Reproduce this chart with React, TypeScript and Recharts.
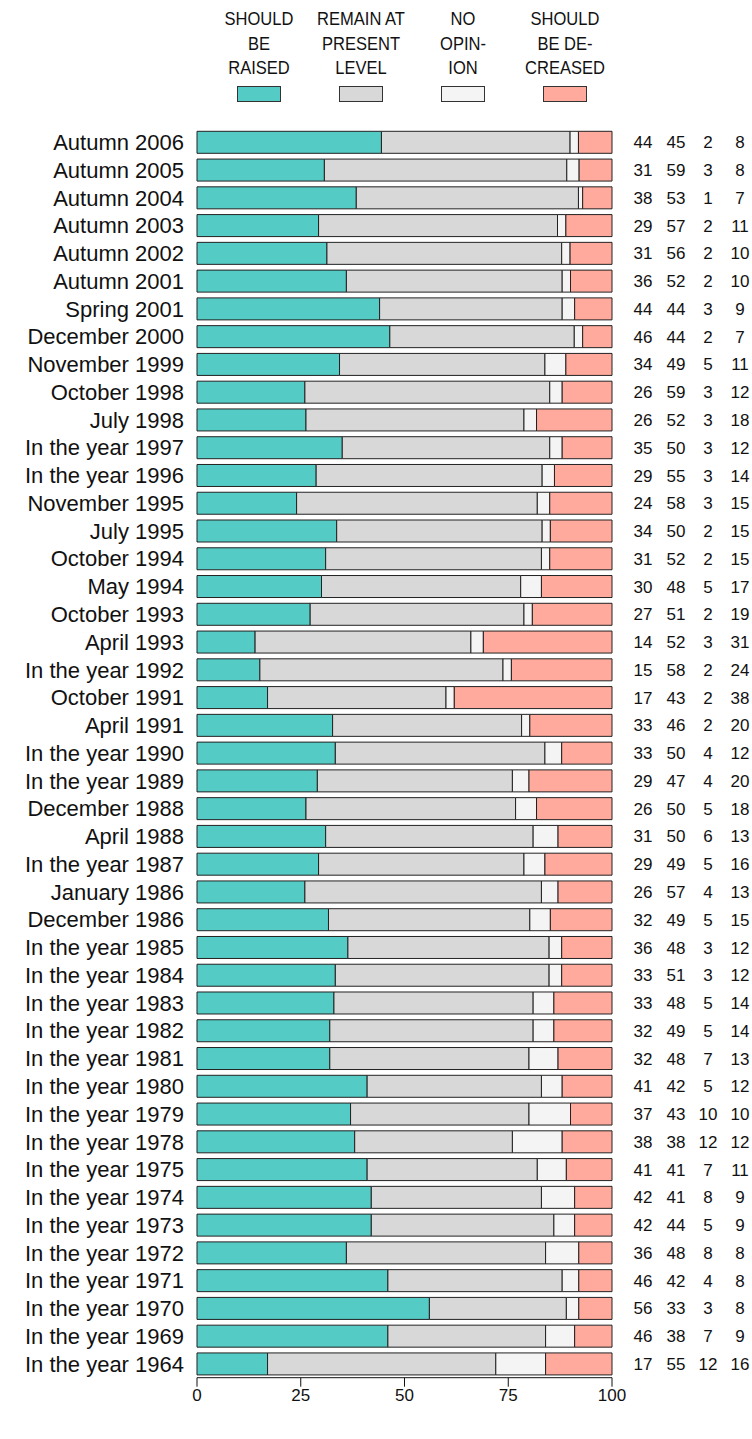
import React from 'react';
import { BarChart, Bar, XAxis, YAxis, LabelList } from 'recharts';

const labels = [
    'Autumn 2006', 'Autumn 2005', 'Autumn 2004', 'Autumn 2003', 'Autumn 2002', 'Autumn 2001',
    'Spring 2001', 'December 2000', 'November 1999', 'October 1998', 'July 1998',
    'In the year 1997', 'In the year 1996', 'November 1995', 'July 1995', 'October 1994',
    'May 1994', 'October 1993', 'April 1993', 'In the year 1992', 'October 1991', 'April 1991',
    'In the year 1990', 'In the year 1989', 'December 1988', 'April 1988', 'In the year 1987',
    'January 1986', 'December 1986', 'In the year 1985', 'In the year 1984', 'In the year 1983',
    'In the year 1982', 'In the year 1981', 'In the year 1980', 'In the year 1979',
    'In the year 1978', 'In the year 1975', 'In the year 1974', 'In the year 1973',
    'In the year 1972', 'In the year 1971', 'In the year 1970', 'In the year 1969', 'In the year 1964',
];

const raised = [44, 31, 38, 29, 31, 36, 44, 46, 34, 26, 26, 35, 29, 24, 34, 31, 30, 27, 14, 15, 17, 33, 33, 29, 26, 31, 29, 26, 32, 36, 33, 33, 32, 32, 41, 37, 38, 41, 42, 42, 36, 46, 56, 46, 17];
const remain = [45, 59, 53, 57, 56, 52, 44, 44, 49, 59, 52, 50, 55, 58, 50, 52, 48, 51, 52, 58, 43, 46, 50, 47, 50, 50, 49, 57, 49, 48, 51, 48, 49, 48, 42, 43, 38, 41, 41, 44, 48, 42, 33, 38, 55];
const noOpinion = [2, 3, 1, 2, 2, 2, 3, 2, 5, 3, 3, 3, 3, 3, 2, 2, 5, 2, 3, 2, 2, 2, 4, 4, 5, 6, 5, 4, 5, 3, 3, 5, 5, 7, 5, 10, 12, 7, 8, 5, 8, 4, 3, 7, 12];
const decreased = [8, 8, 7, 11, 10, 10, 9, 7, 11, 12, 18, 12, 14, 15, 15, 15, 17, 19, 31, 24, 38, 20, 12, 20, 18, 13, 16, 13, 15, 12, 12, 14, 14, 13, 12, 10, 12, 11, 9, 9, 8, 8, 8, 9, 16];

const xTicks = [0, 0.25, 0.5, 0.75, 1];

const legendItems = [
    { lines: ['SHOULD', 'BE', 'RAISED'], color: '#55cbc5' },
    { lines: ['REMAIN AT', 'PRESENT', 'LEVEL'], color: '#d8d8d8' },
    { lines: ['NO', 'OPIN-', 'ION'], color: '#f4f4f4' },
    { lines: ['SHOULD', 'BE DE-', 'CREASED'], color: '#ffaa9c' },
];

const data = labels.map((name, i) => ({
    name,
    raised: raised[i],
    remain: remain[i],
    noOpinion: noOpinion[i],
    decreased: decreased[i],
}));

// the four raw numbers printed to the right of every bar
const RowNumbers = (props: any) => {
    const { x, y, width, height, index } = props;
    const right = x + width;
    const cy = y + height / 2;
    const vals = [raised[index], remain[index], noOpinion[index], decreased[index]];
    const offsets = [31, 64, 96, 128];
    return (
        <g>
            {vals.map((v, k) => (
                <text key={k} x={right + offsets[k]} y={cy} dy="0.355em" textAnchor="middle" fontSize={17} fill="#111">
                    {v}
                </text>
            ))}
        </g>
    );
};

export default function App() {
    return (
        <div style={{ position: 'absolute', left: 0, top: 0, width: 752, height: 1439, background: '#fff', fontFamily: '"Liberation Sans", Arial, sans-serif' }}>
            {/* Legend */}
            {legendItems.map((item, i) => {
                const cx = 258.5 + i * 102.3;
                return (
                    <div key={i}>
                        <div style={{ position: 'absolute', left: cx - 60, top: 7, width: 120, textAlign: 'center', fontSize: 19, lineHeight: '24.5px', color: '#111', transform: 'scaleX(0.87)' }}>
                            {item.lines.map((l) => (
                                <div key={l}>{l}</div>
                            ))}
                        </div>
                        <div style={{ position: 'absolute', left: cx - 22, top: 86, width: 44, height: 16, boxSizing: 'border-box', border: '1px solid #333', background: item.color }} />
                    </div>
                );
            })}

            <div style={{ position: 'absolute', left: 0, top: 0 }}>
                <BarChart
                    width={752}
                    height={1439}
                    data={data}
                    layout="vertical"
                    stackOffset="expand"
                    margin={{ top: 128.3, right: 140, bottom: 31.3, left: 17 }}
                >
                    <XAxis
                        type="number"
                        domain={[0, 1]}
                        ticks={xTicks}
                        tickFormatter={(v) => String(Math.round(v * 100))}
                        axisLine={{ stroke: '#111' }}
                        tickLine={{ stroke: '#111' }}
                        tickSize={9}
                        tick={{ fontSize: 17, fill: '#111' }}
                    />
                    <YAxis
                        type="category"
                        dataKey="name"
                        width={180}
                        axisLine={false}
                        tickLine={false}
                        tickSize={0}
                        tickMargin={13}
                        interval={0}
                        tick={{ fontSize: 22, fill: '#111' }}
                    />
                    <Bar dataKey="raised" stackId="a" fill="#55cbc5" stroke="#222" strokeWidth={1} barSize={22} isAnimationActive={false} />
                    <Bar dataKey="remain" stackId="a" fill="#d8d8d8" stroke="#222" strokeWidth={1} barSize={22} isAnimationActive={false} />
                    <Bar dataKey="noOpinion" stackId="a" fill="#f4f4f4" stroke="#222" strokeWidth={1} barSize={22} isAnimationActive={false} />
                    <Bar dataKey="decreased" stackId="a" fill="#ffaa9c" stroke="#222" strokeWidth={1} barSize={22} isAnimationActive={false}>
                        <LabelList dataKey="decreased" content={<RowNumbers />} />
                    </Bar>
                </BarChart>
            </div>
        </div>
    );
}
